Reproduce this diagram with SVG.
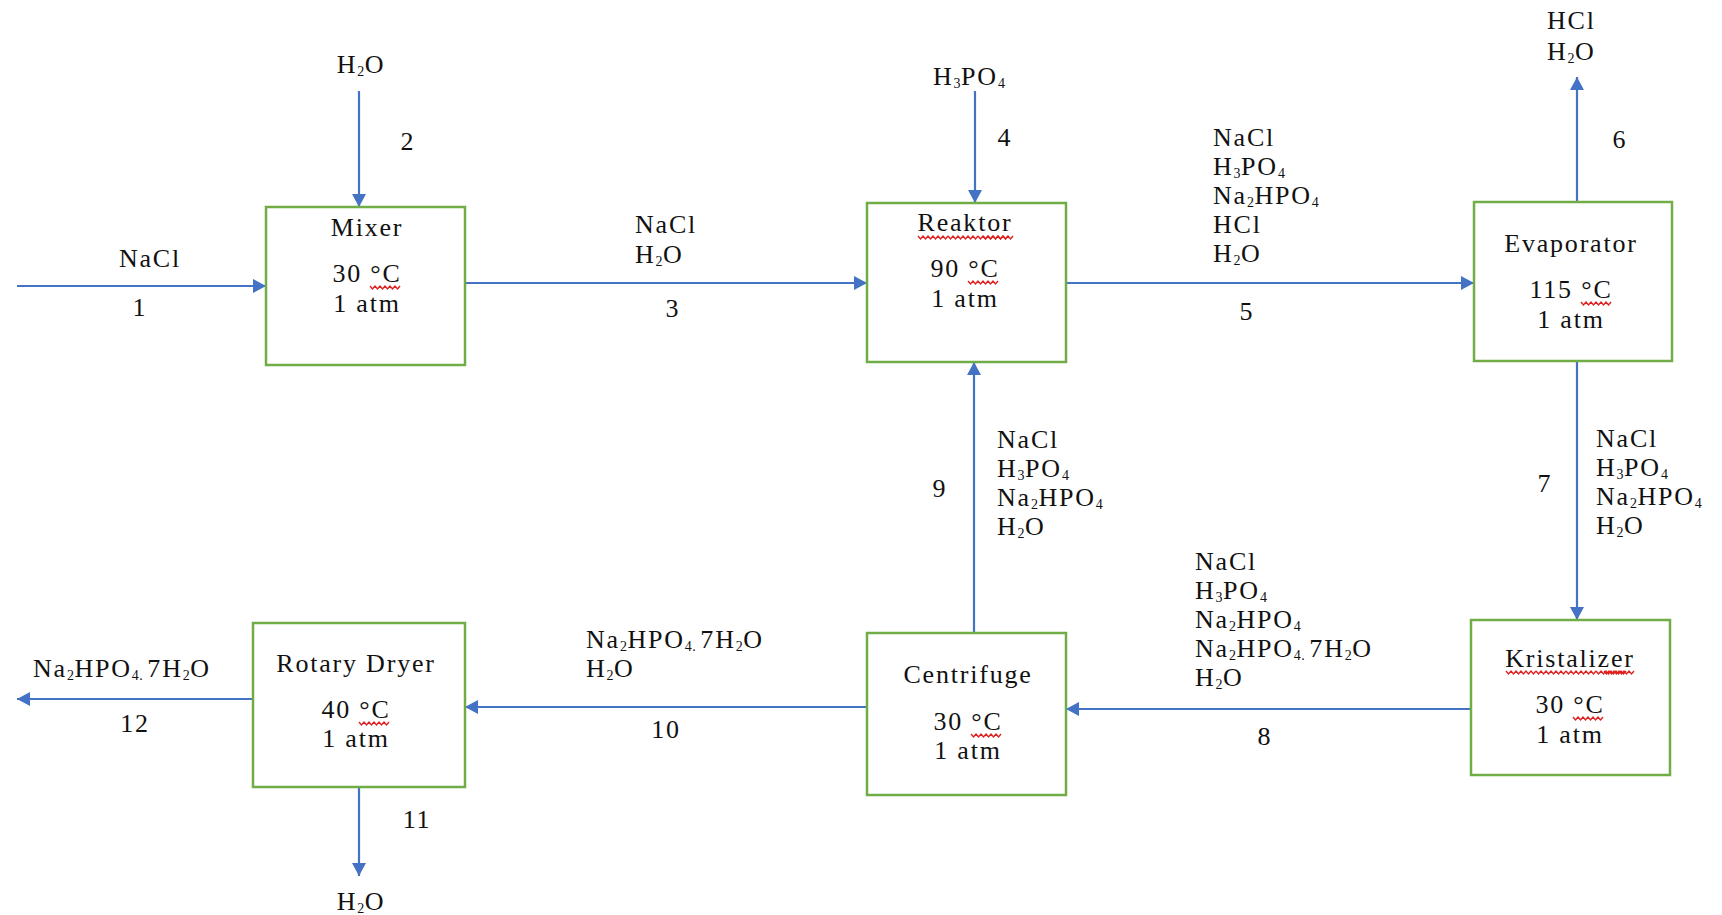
<svg xmlns="http://www.w3.org/2000/svg" xmlns:xlink="http://www.w3.org/1999/xlink" width="1722" height="915" viewBox="0 0 1722 915">
<style>
.t{font-family:"Liberation Serif","Times New Roman",serif;font-size:26px;fill:#111;letter-spacing:1.8px}
.c{text-anchor:middle}
.s{font-size:14px;letter-spacing:0.5px}
.box{fill:#fff;stroke:#70AD47;stroke-width:2.5}
.ln{stroke:#4472C4;stroke-width:2.2;fill:none;marker-end:url(#ah)}
.wv{fill:none;stroke:#E02020;stroke-width:1.4}
</style>
<defs>
<marker id="ah" markerUnits="userSpaceOnUse" markerWidth="14" markerHeight="14" refX="13" refY="7" orient="auto">
<path d="M0 0 L13 7 L0 14 Z" fill="#4472C4"/>
</marker>
<path id="w" class="wv" d="M0 0l2.5 3 2.5-3 2.5 3 2.5-3 2.5 3 2.5-3 2.5 3 2.5-3 2.5 3 2.5-3 2.5 3 2.5-3"/>
</defs>
<rect width="1722" height="915" fill="#fff"/>

<g id="connectors">
<line class="ln" x1="17" y1="286" x2="266" y2="286"/>
<line class="ln" x1="359" y1="91" x2="359" y2="207"/>
<line class="ln" x1="465" y1="283" x2="867" y2="283"/>
<line class="ln" x1="975" y1="91" x2="975" y2="203"/>
<line class="ln" x1="1066" y1="283" x2="1474" y2="283"/>
<line class="ln" x1="1577" y1="202" x2="1577" y2="77"/>
<line class="ln" x1="1577" y1="361" x2="1577" y2="620"/>
<line class="ln" x1="1471" y1="709" x2="1066" y2="709"/>
<line class="ln" x1="974" y1="633" x2="974" y2="362"/>
<line class="ln" x1="867" y1="707" x2="465" y2="707"/>
<line class="ln" x1="359" y1="787" x2="359" y2="876"/>
<line class="ln" x1="253" y1="699" x2="17" y2="699"/>
</g>

<g id="mixer">
<rect class="box" x="266" y="207" width="199" height="158"/>
<text class="t c"><tspan x="367" y="236">Mixer</tspan><tspan x="367" y="282">30 °C</tspan><tspan x="367" y="312">1 atm</tspan></text>
<use xlink:href="#w" x="370" y="286"/>
</g>

<g id="reaktor">
<rect class="box" x="867" y="203" width="199" height="159"/>
<text class="t c"><tspan x="965" y="231">Reaktor</tspan><tspan x="965" y="277">90 °C</tspan><tspan x="965" y="307">1 atm</tspan></text>
<use xlink:href="#w" x="918" y="236"/>
<use xlink:href="#w" x="948" y="236"/>
<use xlink:href="#w" x="978" y="236"/>
<use xlink:href="#w" x="983" y="236"/>
<use xlink:href="#w" x="968" y="281"/>
</g>

<g id="evaporator">
<rect class="box" x="1474" y="202" width="198" height="159"/>
<text class="t c"><tspan x="1571" y="252">Evaporator</tspan><tspan x="1571" y="298">115 °C</tspan><tspan x="1571" y="328">1 atm</tspan></text>
<use xlink:href="#w" x="1581" y="302"/>
</g>

<g id="kristalizer">
<rect class="box" x="1471" y="620" width="199" height="155"/>
<text class="t c"><tspan x="1570" y="667">Kristalizer</tspan><tspan x="1570" y="713">30 °C</tspan><tspan x="1570" y="743">1 atm</tspan></text>
<use xlink:href="#w" x="1506" y="671"/>
<use xlink:href="#w" x="1536" y="671"/>
<use xlink:href="#w" x="1566" y="671"/>
<use xlink:href="#w" x="1596" y="671"/>
<use xlink:href="#w" x="1604" y="671"/>
<use xlink:href="#w" x="1573" y="717"/>
</g>

<g id="centrifuge">
<rect class="box" x="867" y="633" width="199" height="162"/>
<text class="t c"><tspan x="968" y="683">Centrifuge</tspan><tspan x="968" y="730">30 °C</tspan><tspan x="968" y="759">1 atm</tspan></text>
<use xlink:href="#w" x="971" y="734"/>
</g>

<g id="rotary-dryer">
<rect class="box" x="253" y="623" width="212" height="164"/>
<text class="t c"><tspan x="356" y="672">Rotary Dryer</tspan><tspan x="356" y="718">40 °C</tspan><tspan x="356" y="747">1 atm</tspan></text>
<use xlink:href="#w" x="359" y="722"/>
</g>

<g id="stream-labels">
<text class="t c" x="150" y="267">NaCl</text>
<text class="t c" x="140" y="316">1</text>
<text class="t c" x="361" y="73">H<tspan class="s" dy="3">2</tspan><tspan dy="-3">O</tspan></text>
<text class="t c" x="408" y="150">2</text>
<text class="t"><tspan x="635" y="233">NaCl</tspan><tspan x="635" y="263">H<tspan class="s" dy="3">2</tspan><tspan dy="-3">O</tspan></tspan></text>
<text class="t c" x="673" y="317">3</text>
<text class="t" x="933" y="85">H<tspan class="s" dy="3">3</tspan><tspan dy="-3">PO</tspan><tspan class="s" dy="3">4</tspan></text>
<text class="t c" x="1005" y="146">4</text>
<text class="t"><tspan x="1213" y="146">NaCl</tspan><tspan x="1213" y="175">H<tspan class="s" dy="3">3</tspan><tspan dy="-3">PO</tspan><tspan class="s" dy="3">4</tspan></tspan><tspan x="1213" y="204">Na<tspan class="s" dy="3">2</tspan><tspan dy="-3">HPO</tspan><tspan class="s" dy="3">4</tspan></tspan><tspan x="1213" y="233">HCl</tspan><tspan x="1213" y="262">H<tspan class="s" dy="3">2</tspan><tspan dy="-3">O</tspan></tspan></text>
<text class="t c" x="1247" y="320">5</text>
<text class="t"><tspan x="1547" y="29">HCl</tspan><tspan x="1547" y="60">H<tspan class="s" dy="3">2</tspan><tspan dy="-3">O</tspan></tspan></text>
<text class="t c" x="1620" y="148">6</text>
<text class="t"><tspan x="1596" y="447">NaCl</tspan><tspan x="1596" y="476">H<tspan class="s" dy="3">3</tspan><tspan dy="-3">PO</tspan><tspan class="s" dy="3">4</tspan></tspan><tspan x="1596" y="505">Na<tspan class="s" dy="3">2</tspan><tspan dy="-3">HPO</tspan><tspan class="s" dy="3">4</tspan></tspan><tspan x="1596" y="534">H<tspan class="s" dy="3">2</tspan><tspan dy="-3">O</tspan></tspan></text>
<text class="t c" x="1545" y="492">7</text>
<text class="t"><tspan x="1195" y="570">NaCl</tspan><tspan x="1195" y="599">H<tspan class="s" dy="3">3</tspan><tspan dy="-3">PO</tspan><tspan class="s" dy="3">4</tspan></tspan><tspan x="1195" y="628">Na<tspan class="s" dy="3">2</tspan><tspan dy="-3">HPO</tspan><tspan class="s" dy="3">4</tspan></tspan><tspan x="1195" y="657">Na<tspan class="s" dy="3">2</tspan><tspan dy="-3">HPO</tspan><tspan class="s" dy="3">4. </tspan><tspan dy="-3">7H</tspan><tspan class="s" dy="3">2</tspan><tspan dy="-3">O</tspan></tspan><tspan x="1195" y="686">H<tspan class="s" dy="3">2</tspan><tspan dy="-3">O</tspan></tspan></text>
<text class="t c" x="1265" y="745">8</text>
<text class="t"><tspan x="997" y="448">NaCl</tspan><tspan x="997" y="477">H<tspan class="s" dy="3">3</tspan><tspan dy="-3">PO</tspan><tspan class="s" dy="3">4</tspan></tspan><tspan x="997" y="506">Na<tspan class="s" dy="3">2</tspan><tspan dy="-3">HPO</tspan><tspan class="s" dy="3">4</tspan></tspan><tspan x="997" y="535">H<tspan class="s" dy="3">2</tspan><tspan dy="-3">O</tspan></tspan></text>
<text class="t c" x="940" y="497">9</text>
<text class="t"><tspan x="586" y="648">Na<tspan class="s" dy="3">2</tspan><tspan dy="-3">HPO</tspan><tspan class="s" dy="3">4. </tspan><tspan dy="-3">7H</tspan><tspan class="s" dy="3">2</tspan><tspan dy="-3">O</tspan></tspan><tspan x="586" y="677">H<tspan class="s" dy="3">2</tspan><tspan dy="-3">O</tspan></tspan></text>
<text class="t c" x="666" y="738">10</text>
<text class="t c" x="417" y="828">11</text>
<text class="t c" x="361" y="910">H<tspan class="s" dy="3">2</tspan><tspan dy="-3">O</tspan></text>
<text class="t" x="33" y="677">Na<tspan class="s" dy="3">2</tspan><tspan dy="-3">HPO</tspan><tspan class="s" dy="3">4. </tspan><tspan dy="-3">7H</tspan><tspan class="s" dy="3">2</tspan><tspan dy="-3">O</tspan></text>
<text class="t c" x="135" y="732">12</text>
</g>
</svg>
